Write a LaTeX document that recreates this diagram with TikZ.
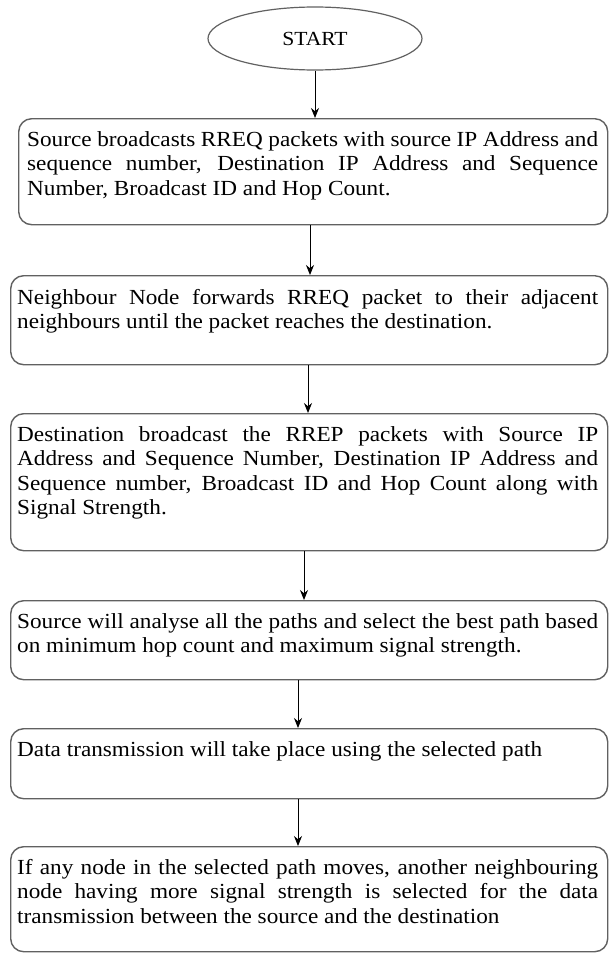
\documentclass[tikz,border=0pt]{standalone}
\usepackage{fontspec}
\setmainfont[FakeStretch=1.08]{Liberation Serif}
\usetikzlibrary{shapes.geometric,arrows.meta}
\begin{document}
\begin{tikzpicture}[x=1pt,y=-1pt,
  box/.style={draw=black!62, line width=1.4pt, rounded corners=13pt, inner sep=0pt, anchor=north west},
  txt/.style={anchor=north west, inner sep=0pt, align=justify, font=\fontsize{21.5}{24.5}\selectfont, execute at begin node={\tolerance=10000\hbadness=10000\strut}},
  arr/.style={-{Stealth[length=10pt,width=8pt]}, line width=1pt},
  startnode/.style={draw=black!62, line width=1.2pt, ellipse, minimum width=214pt, minimum height=63pt, inner sep=0pt, font=\fontsize{20}{24}\selectfont}]
\useasboundingbox (0,0) rectangle (609,953);
\fill[white] (0,0) rectangle (609,953);

\node[startnode] (s) at (315,38.5) {START};

\node[box, minimum width=589pt, minimum height=106pt] (b1) at (18,118) {};
\node[box, minimum width=597pt, minimum height=89pt] (b2) at (10,275) {};
\node[box, minimum width=597pt, minimum height=137pt] (b3) at (10,413) {};
\node[box, minimum width=597pt, minimum height=79pt] (b4) at (10,600) {};
\node[box, minimum width=597pt, minimum height=70pt] (b5) at (10,728) {};
\node[box, minimum width=597pt, minimum height=105pt] (b6) at (10,846) {};

\node[txt, text width=571pt] (t1) at (27,129) {Source broadcasts RREQ packets with source IP Address and\linebreak sequence number, Destination IP Address and Sequence\linebreak Number, Broadcast ID and Hop Count.};
\node[txt, text width=581pt] (t2) at (17,287) {Neighbour Node forwards RREQ packet to their adjacent\linebreak neighbours until the packet reaches the destination.};
\node[txt, text width=581pt] (t3) at (17,424) {Destination broadcast the RREP packets with Source IP\linebreak Address and Sequence Number, Destination IP Address and\linebreak Sequence number, Broadcast ID and Hop Count along with\linebreak Signal Strength.};
\node[txt, text width=581pt] (t4) at (17,611) {Source will analyse all the paths and select the best path based\linebreak on minimum hop count and maximum signal strength.};
\node[txt, text width=581pt] (t5) at (17,739) {Data transmission will take place using the selected path};
\node[txt, text width=581pt] (t6) at (17,857) {If any node in the selected path moves, another neighbouring\linebreak node having more signal strength is selected for the data\linebreak transmission between the source and the destination};

\coordinate (x1) at (315,0);
\coordinate (x2) at (310,0);
\coordinate (x3) at (308,0);
\coordinate (x4) at (304,0);
\coordinate (x5) at (298,0);
\coordinate (x6) at (298,0);
\draw[arr] (s.south -| x1) -- (b1.north -| x1);
\draw[arr] (b1.south -| x2) -- (b2.north -| x2);
\draw[arr] (b2.south -| x3) -- (b3.north -| x3);
\draw[arr] (b3.south -| x4) -- (b4.north -| x4);
\draw[arr] (b4.south -| x5) -- (b5.north -| x5);
\draw[arr] (b5.south -| x6) -- (b6.north -| x6);
\end{tikzpicture}
\end{document}
